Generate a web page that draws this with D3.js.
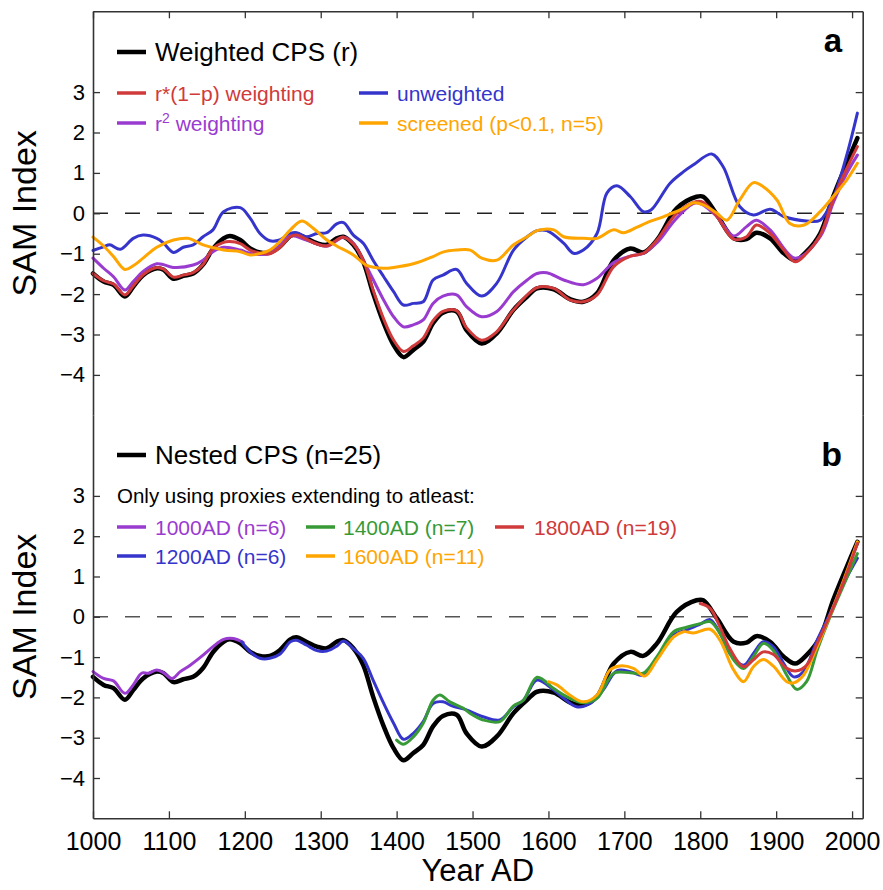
<!DOCTYPE html>
<html>
<head>
<meta charset="utf-8">
<script src="https://cdn.jsdelivr.net/npm/d3@7"></script>
<style>
  html, body { margin: 0; padding: 0; background: #fff; }
  svg { display: block; font-family: "Liberation Sans", Arial, Helvetica, sans-serif; }
</style>
</head>
<body>
<svg id="chart" width="883" height="890"></svg>
<script>
// ---------------- DATA ----------------
const yearTicks = [1000, 1100, 1200, 1300, 1400, 1500, 1600, 1700, 1800, 1900, 2000];
const indexTicks = [-4, -3, -2, -1, 0, 1, 2, 3];

// Weighted CPS (r)  == Nested CPS (n=25)
const cpsYears = [1000,1014,1027,1042,1053,1066,1084,1093,1106,1119,1132,1145,1158,1172,1180,1194,1207,1220,1233,1246,1260,1268,1281,1295,1308,1321,1330,1343,1356,1369,1383,1396,1409,1422,1435,1448,1461,1479,1492,1512,1532,1554,1572,1585,1607,1629,1646,1664,1686,1708,1725,1743,1769,1795,1804,1822,1844,1861,1874,1892,1910,1925,1940,1958,1975,1993,2007];
const cpsVals  = [-1.49,-1.69,-1.77,-2.06,-1.82,-1.53,-1.36,-1.40,-1.62,-1.55,-1.49,-1.27,-0.88,-0.62,-0.56,-0.66,-0.87,-0.97,-0.97,-0.83,-0.56,-0.51,-0.62,-0.74,-0.78,-0.62,-0.58,-0.78,-1.20,-1.98,-2.72,-3.26,-3.56,-3.38,-3.18,-2.72,-2.46,-2.43,-2.89,-3.22,-2.97,-2.39,-2.06,-1.86,-1.88,-2.13,-2.19,-1.98,-1.16,-0.87,-0.97,-0.66,0.12,0.41,0.41,-0.04,-0.62,-0.64,-0.48,-0.62,-0.99,-1.16,-0.95,-0.50,0.41,1.24,1.86];

// r*(1-p) weighting
const rpYears = [1000,1014,1027,1042,1053,1066,1084,1093,1106,1119,1132,1145,1158,1172,1180,1194,1207,1220,1233,1246,1260,1268,1281,1295,1308,1321,1330,1343,1356,1369,1383,1396,1409,1422,1435,1448,1461,1479,1492,1512,1532,1554,1585,1607,1629,1646,1664,1686,1708,1725,1743,1769,1795,1804,1822,1844,1861,1874,1892,1910,1925,1940,1958,1975,1993,2007];
const rpVals  = [-1.49,-1.67,-1.75,-2.02,-1.80,-1.52,-1.34,-1.38,-1.58,-1.53,-1.47,-1.27,-0.87,-0.72,-0.70,-0.75,-0.91,-0.98,-1.00,-0.85,-0.58,-0.54,-0.64,-0.76,-0.81,-0.66,-0.59,-0.76,-1.16,-1.90,-2.62,-3.14,-3.42,-3.28,-3.09,-2.66,-2.43,-2.41,-2.83,-3.14,-2.93,-2.39,-1.84,-1.86,-2.15,-2.19,-2.02,-1.32,-1.06,-0.99,-0.66,0.00,0.29,0.27,-0.08,-0.64,-0.58,-0.29,-0.50,-0.91,-1.20,-0.99,-0.54,0.33,1.11,1.65];

// r^2 weighting
const r2Years = [1000,1014,1027,1042,1053,1066,1084,1093,1106,1132,1145,1158,1172,1194,1207,1233,1260,1281,1308,1330,1343,1356,1383,1396,1409,1422,1435,1448,1461,1479,1492,1512,1532,1554,1572,1585,1598,1620,1646,1664,1686,1708,1725,1743,1769,1795,1822,1844,1861,1874,1892,1925,1958,1975,1993,2007];
const r2Vals  = [-1.11,-1.36,-1.57,-1.90,-1.69,-1.44,-1.25,-1.27,-1.34,-1.28,-1.16,-0.95,-0.84,-0.91,-0.99,-0.99,-0.56,-0.66,-0.81,-0.59,-0.74,-1.16,-2.15,-2.56,-2.81,-2.76,-2.64,-2.23,-2.05,-2.02,-2.31,-2.56,-2.43,-1.94,-1.65,-1.49,-1.47,-1.65,-1.77,-1.61,-1.22,-1.06,-0.99,-0.73,-0.12,0.26,-0.08,-0.56,-0.33,-0.17,-0.41,-1.11,-0.58,0.25,0.99,1.44];

// unweighted
const unwYears = [1000,1014,1022,1036,1053,1066,1084,1093,1106,1119,1132,1145,1158,1172,1194,1207,1220,1233,1246,1260,1268,1281,1295,1308,1321,1330,1343,1356,1369,1383,1396,1409,1422,1435,1448,1461,1479,1492,1512,1532,1554,1572,1585,1598,1620,1633,1646,1664,1677,1690,1708,1725,1735,1760,1778,1791,1815,1830,1852,1870,1892,1910,1940,1958,1975,1993,2007];
const unwVals  = [-0.92,-0.83,-0.78,-0.89,-0.62,-0.54,-0.62,-0.74,-0.97,-0.84,-0.78,-0.58,-0.41,0.04,0.14,-0.12,-0.50,-0.68,-0.66,-0.50,-0.48,-0.58,-0.50,-0.48,-0.26,-0.23,-0.54,-0.74,-1.16,-1.57,-1.94,-2.27,-2.23,-2.19,-1.65,-1.53,-1.39,-1.73,-2.05,-1.73,-0.91,-0.58,-0.43,-0.43,-0.74,-0.99,-0.91,-0.50,0.50,0.68,0.41,0.04,0.08,0.74,1.03,1.20,1.47,1.16,0.17,-0.04,0.10,-0.08,-0.19,-0.17,0.37,1.44,2.48];

// screened (p<0.1, n=5)
const scrYears = [1000,1014,1027,1042,1053,1066,1084,1106,1125,1145,1172,1194,1207,1233,1246,1260,1275,1290,1308,1321,1343,1360,1383,1396,1422,1448,1461,1479,1497,1512,1532,1554,1572,1585,1607,1620,1646,1664,1686,1699,1716,1730,1752,1778,1791,1804,1822,1835,1852,1870,1883,1901,1918,1937,1958,1975,1993,2007];
const scrVals  = [-0.59,-0.81,-1.07,-1.39,-1.30,-1.11,-0.84,-0.66,-0.62,-0.78,-0.91,-0.95,-1.03,-0.91,-0.70,-0.41,-0.19,-0.37,-0.66,-0.81,-1.03,-1.28,-1.36,-1.34,-1.25,-1.07,-0.96,-0.91,-0.91,-1.11,-1.16,-0.78,-0.58,-0.43,-0.41,-0.58,-0.62,-0.62,-0.41,-0.48,-0.35,-0.23,-0.08,0.12,0.26,0.21,0.00,-0.17,0.33,0.76,0.66,0.33,-0.25,-0.29,0.04,0.41,0.83,1.24];

// Nested: only using proxies extending to at least ...
const n1000Years = [1000,1014,1027,1042,1053,1064,1073,1084,1093,1104,1115,1128,1145,1158,1172,1185,1198];
const n1000Vals  = [-1.36,-1.53,-1.59,-1.90,-1.69,-1.40,-1.40,-1.32,-1.39,-1.53,-1.36,-1.20,-0.95,-0.74,-0.56,-0.54,-0.64];

const n1200Years = [1196,1207,1220,1233,1246,1260,1268,1281,1295,1308,1321,1330,1343,1356,1369,1383,1396,1409,1422,1435,1448,1461,1473,1492,1514,1536,1554,1567,1585,1607,1620,1637,1655,1672,1690,1708,1725,1743,1765,1782,1800,1813,1826,1839,1857,1870,1883,1896,1910,1923,1936,1954,1971,1989,2007];
const n1200Vals  = [-0.62,-0.87,-1.03,-1.03,-0.93,-0.62,-0.58,-0.70,-0.84,-0.85,-0.73,-0.60,-0.79,-1.03,-1.57,-2.15,-2.64,-3.04,-2.89,-2.60,-2.15,-2.11,-2.21,-2.31,-2.48,-2.56,-2.23,-2.07,-1.57,-1.82,-2.02,-2.23,-2.15,-1.82,-1.34,-1.36,-1.45,-1.03,-0.45,-0.33,-0.18,-0.07,-0.41,-0.91,-1.20,-0.91,-0.62,-0.74,-1.16,-1.49,-1.36,-0.58,0.08,0.83,1.45];

const n1400Years = [1400,1409,1422,1435,1448,1457,1470,1488,1497,1514,1536,1554,1567,1585,1607,1624,1646,1664,1686,1708,1725,1743,1765,1782,1800,1813,1826,1844,1857,1870,1883,1896,1914,1927,1940,1954,1971,1989,2007];
const n1400Vals  = [-3.06,-3.16,-2.98,-2.64,-2.07,-1.94,-2.11,-2.27,-2.40,-2.56,-2.60,-2.21,-2.07,-1.50,-1.78,-1.98,-2.13,-2.02,-1.40,-1.39,-1.40,-0.99,-0.37,-0.26,-0.17,-0.12,-0.41,-1.07,-1.28,-0.99,-0.66,-0.83,-1.45,-1.80,-1.61,-0.83,0.00,0.79,1.57];

const n1600Years = [1600,1611,1628,1646,1664,1681,1694,1712,1727,1743,1765,1778,1791,1813,1826,1844,1857,1870,1883,1896,1914,1923,1936,1954,1971,1989,2007];
const n1600Vals  = [-1.61,-1.69,-1.94,-2.11,-1.94,-1.32,-1.22,-1.28,-1.47,-1.07,-0.50,-0.37,-0.40,-0.31,-0.58,-1.32,-1.61,-1.24,-1.06,-1.22,-1.61,-1.64,-1.45,-0.74,0.04,0.91,1.86];

const n1800Years = [1800,1813,1826,1839,1857,1870,1883,1896,1914,1927,1940,1954,1971,1989,2007];
const n1800Vals  = [0.33,0.21,-0.25,-0.79,-1.24,-1.07,-0.87,-0.93,-1.28,-1.34,-1.20,-0.66,0.04,0.87,1.82];

// ---------------- COLOURS ----------------
const C = { black: "#000000", red: "#d03a3a", purple: "#9a3bd0", blue: "#3535cc", orange: "#ffa500", green: "#379a37" };

// ---------------- LAYOUT ----------------
const svg = d3.select("#chart");
const x = d3.scaleLinear().domain([1000, 2014]).range([93, 862.7]);
const yA = d3.scaleLinear().domain([-5, 5]).range([415.3, 11.3]);
const yB = d3.scaleLinear().domain([-5, 5]).range([818.3, 415.3]);

const pair = (ys, vs) => ys.map((yr, i) => [yr, vs[i]]);

function drawSeries(y, ys, vs, color, width) {
  const line = d3.line().x(d => x(d[0])).y(d => y(d[1])).curve(d3.curveCatmullRom.alpha(0.5));
  svg.append("path").datum(pair(ys, vs))
    .attr("fill", "none").attr("stroke", color).attr("stroke-width", width)
    .attr("stroke-linejoin", "round").attr("stroke-linecap", "round")
    .attr("d", line);
}

function zeroLine(y, color) {
  svg.append("line")
    .attr("x1", x(1000)).attr("x2", x(2000))
    .attr("y1", y(0)).attr("y2", y(0))
    .attr("stroke", color).attr("stroke-width", 1.5)
    .attr("stroke-dasharray", "15,17");
}

function styleAxis(g) {
  g.selectAll("path.domain").attr("stroke", "#333").attr("stroke-width", 1.6);
  g.selectAll(".tick line").attr("stroke", "#333").attr("stroke-width", 1.3);
  g.selectAll("text").attr("fill", "#000").style("font-family", '"Liberation Sans", Arial, sans-serif');
}

// ---------- Panel a ----------
zeroLine(yA, "#222");
drawSeries(yA, cpsYears, cpsVals, C.black, 4.5);
drawSeries(yA, unwYears, unwVals, C.blue, 3);
drawSeries(yA, r2Years, r2Vals, C.purple, 3);
drawSeries(yA, rpYears, rpVals, C.red, 3);
drawSeries(yA, scrYears, scrVals, C.orange, 3);

// ---------- Panel b ----------
zeroLine(yB, "#555");
drawSeries(yB, cpsYears, cpsVals, C.black, 4.5);
drawSeries(yB, n1000Years, n1000Vals, C.purple, 3);
drawSeries(yB, n1200Years, n1200Vals, C.blue, 3);
drawSeries(yB, n1400Years, n1400Vals, C.green, 3);
drawSeries(yB, n1600Years, n1600Vals, C.orange, 3);
drawSeries(yB, n1800Years, n1800Vals, C.red, 3);

// ---------- Axes ----------
const tickFmt = d3.format("d");
[yA, yB].forEach(y => {
  const g = svg.append("g").attr("transform", `translate(${x(1000)},0)`)
    .call(d3.axisLeft(y).tickValues(indexTicks).tickFormat(d => d < 0 ? "\u2212" + Math.abs(d) : String(d))
      .tickSize(-7).tickSizeOuter(0).tickPadding(8));
  styleAxis(g);
  g.selectAll("text").style("font-size", "22px");
  const r = svg.append("g").attr("transform", `translate(${x.range()[1]},0)`)
    .call(d3.axisRight(y).tickValues(indexTicks).tickFormat("").tickSize(-7).tickSizeOuter(0));
  styleAxis(r);
});
const gt = svg.append("g").attr("transform", `translate(0,${yA.range()[1]})`)
  .call(d3.axisTop(x).tickValues(yearTicks).tickFormat("").tickSize(-7).tickSizeOuter(0));
styleAxis(gt);
const gb = svg.append("g").attr("transform", `translate(0,${yB.range()[0]})`)
  .call(d3.axisBottom(x).tickValues(yearTicks).tickFormat(tickFmt).tickSize(-7).tickSizeOuter(0).tickPadding(14));
styleAxis(gb);
gb.selectAll("text").style("font-size", "25px");

// axis titles
svg.append("text").attr("transform", `translate(36,${yA(0)}) rotate(-90)`)
  .attr("text-anchor", "middle").style("font-size", "34px").text("SAM Index");
svg.append("text").attr("transform", `translate(36,${yB(0)}) rotate(-90)`)
  .attr("text-anchor", "middle").style("font-size", "34px").text("SAM Index");
svg.append("text").attr("x", (x.range()[0] + x.range()[1]) / 2).attr("y", 881)
  .attr("text-anchor", "middle").style("font-size", "31px").text("Year AD");

// panel letters
svg.append("text").attr("x", 842).attr("y", 52).attr("text-anchor", "end")
  .style("font-size", "33px").style("font-weight", "bold").text("a");
svg.append("text").attr("x", 842).attr("y", 466).attr("text-anchor", "end")
  .style("font-size", "34px").style("font-weight", "bold").text("b");

// ---------- Legends ----------
function legItem(x0, yLine, color, width, label, size, textX) {
  svg.append("line").attr("x1", x0).attr("x2", x0 + 29).attr("y1", yLine).attr("y2", yLine)
    .attr("stroke", color).attr("stroke-width", width);
  const t = svg.append("text").attr("x", textX).attr("y", yLine + size * 0.36)
    .attr("fill", color).style("font-size", size + "px");
  if (typeof label === "string") t.text(label);
  else label(t);
  return t;
}
legItem(117, 52, C.black, 4.5, "Weighted CPS (r)", 26, 155).attr("fill", "#000");
legItem(117, 93, C.red, 3.5, "r*(1\u2212p) weighting", 21, 155);
legItem(117, 123, C.purple, 3.5, t => {
  t.append("tspan").text("r");
  t.append("tspan").attr("dy", -8).style("font-size", "14px").text("2");
  t.append("tspan").attr("dy", 8).text(" weighting");
}, 21, 155);
legItem(359, 93, C.blue, 3.5, "unweighted", 21, 397);
legItem(359, 123, C.orange, 3.5, "screened (p<0.1, n=5)", 21, 397);

legItem(117, 455, C.black, 4.5, "Nested CPS (n=25)", 26, 155).attr("fill", "#000");
svg.append("text").attr("x", 117).attr("y", 503).style("font-size", "20.5px").text("Only using proxies extending to atleast:");
legItem(117, 527, C.purple, 3.5, "1000AD (n=6)", 21, 155);
legItem(306, 527, C.green, 3.5, "1400AD (n=7)", 21, 343);
legItem(495, 527, C.red, 3.5, "1800AD (n=19)", 21, 534);
legItem(117, 556, C.blue, 3.5, "1200AD (n=6)", 21, 155);
legItem(306, 556, C.orange, 3.5, "1600AD (n=11)", 21, 343);
</script>
</body>
</html>
